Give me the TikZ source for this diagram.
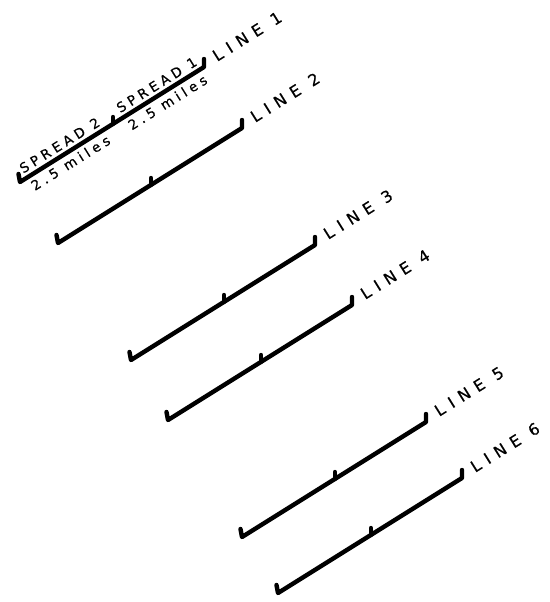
\documentclass[tikz,border=0pt]{standalone}
\usepackage{fontspec}
\setmainfont{DejaVu Sans}
\newfontfamily\lblfont[LetterSpace=42,FakeBold=0.5]{DejaVu Sans}
\newfontfamily\subfont[LetterSpace=30,FakeBold=0.5]{DejaVu Sans}
\begin{document}
\begin{tikzpicture}[x=1pt,y=-1pt,
  ln/.style={line width=4.4pt, line cap=round, line join=round},
  lab/.style={font=\lblfont\fontsize{16}{16}\selectfont, rotate=32, inner sep=0pt},
  sub/.style={font=\subfont\fontsize{13.5}{13.5}\selectfont, rotate=32, inner sep=5pt}]
\useasboundingbox (0,0) rectangle (549,602);
% line end points
\coordinate (a1) at (20,182);  \coordinate (b1) at (204,67);  \coordinate (m1) at (113,124);
\coordinate (a2) at (58,243);  \coordinate (b2) at (242,128); \coordinate (m2) at (151,185);
\coordinate (a3) at (131,360); \coordinate (b3) at (315,245); \coordinate (m3) at (224,302);
\coordinate (a4) at (168,420); \coordinate (b4) at (352,305); \coordinate (m4) at (261,362);
\coordinate (a5) at (242,537); \coordinate (b5) at (426,422); \coordinate (m5) at (335,479);
\coordinate (a6) at (278,593); \coordinate (b6) at (462,478); \coordinate (m6) at (371,535);
\foreach \k in {1,...,6}{
  \draw[ln] ([shift={(-1.5,-8)}]a\k) -- (a\k) -- (b\k) -- ([shift={(0,-8)}]b\k);
  \draw[ln] (m\k) -- ([shift={(0,-7)}]m\k);
}
% quarter points of line 1
\coordinate (q1) at (65,154);
\coordinate (q3) at (162,93.5);
\node[sub, anchor=south] (s2) at (q1) {SPREAD 2};
\node[sub, anchor=south] (s1) at (q3) {SPREAD 1};
\node[sub, anchor=north] (d2) at (q1) {2.5 miles};
\node[sub, anchor=north] (d1) at (q3) {2.5 miles};
% line labels
\node[lab, anchor=base west] (t1) at (217,62)  {LINE 1};
\node[lab, anchor=base west] (t2) at (255,123) {LINE 2};
\node[lab, anchor=base west] (t3) at (328,240) {LINE 3};
\node[lab, anchor=base west] (t4) at (365,300) {LINE 4};
\node[lab, anchor=base west] (t5) at (439,417) {LINE 5};
\node[lab, anchor=base west] (t6) at (475,473) {LINE 6};
\end{tikzpicture}
\end{document}
